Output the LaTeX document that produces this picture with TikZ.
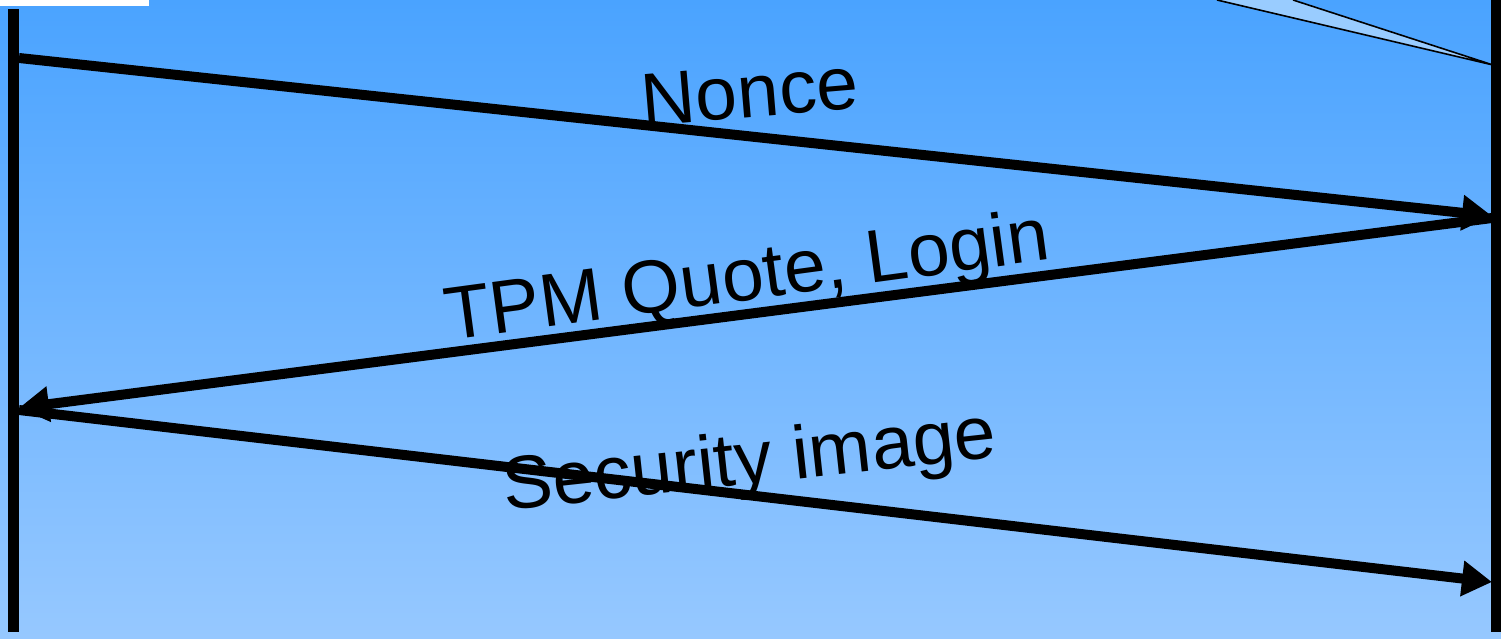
\documentclass[tikz,border=0pt]{standalone}
\usepackage{fontspec}
\setmainfont{Liberation Sans}
\usetikzlibrary{arrows.meta}
\definecolor{bgtop}{RGB}{74,163,255}
\definecolor{bgbot}{RGB}{150,200,255}
\definecolor{wedgefill}{RGB}{153,204,255}
\tikzset{
  msg/.style={line width=10pt,-{Triangle[length=30pt,width=34pt]}},
  lifeline/.style={fill=black},
  lbl/.style={font=\fontsize{75}{80}\selectfont, anchor=base, inner sep=0pt, text=black}
}
\begin{document}
\begin{tikzpicture}[x=1pt,y=1pt]
\useasboundingbox (0,0) rectangle (1501,638);
\shade[top color=bgtop, bottom color=bgbot] (0,0) rectangle (1501,638);
\fill[white] (0,632) rectangle (149,638);
% wedge top right
\fill[wedgefill] (1217,638) -- (1293,638) -- (1493,573) -- cycle;
\draw[line width=1.6pt] (1217,638) -- (1493,573) -- (1293,638);
% lifelines
\fill[lifeline] (8,6) rectangle (19,629);
\fill[lifeline] (1491,6) rectangle (1501,638);
\coordinate (a1) at (19,580);
\coordinate (b1) at (1492,422);
\coordinate (b2) at (1492,420);
\coordinate (a2) at (19,230);
\coordinate (a3) at (19,228);
\coordinate (b3) at (1492,56);
\draw[msg] (a1) -- (b1);
\draw[msg] (b2) -- (a2);
\draw[msg] (a3) -- (b3);
\node[lbl, rotate=4.8] (nonce) at (752,521) {Nonce};
\node[lbl, rotate=7.7] (tpm) at (750,338) {TPM Quote, Login};
\node[lbl, rotate=6.2] (sec) at (752,154) {Security image};
\end{tikzpicture}
\end{document}
